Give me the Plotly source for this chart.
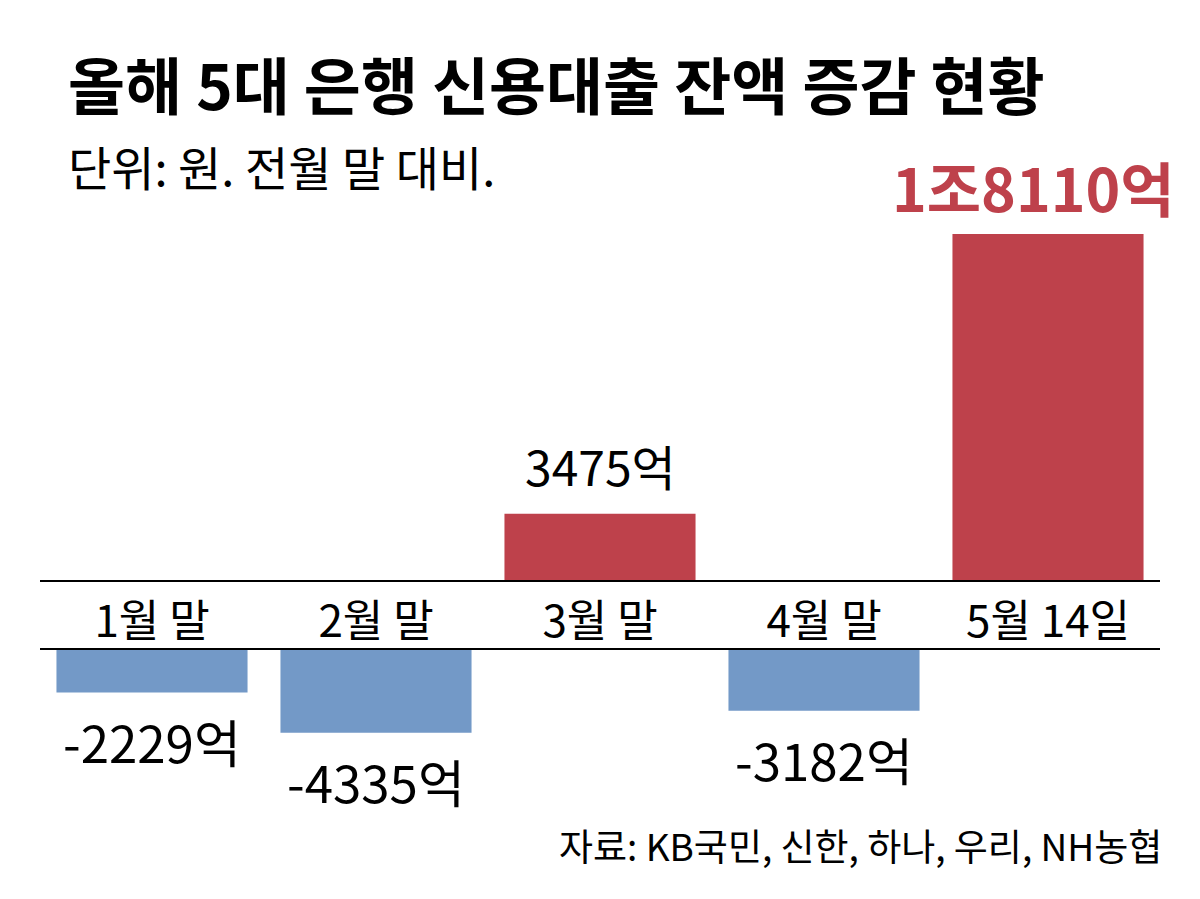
import plotly.graph_objects as go

# ---- data ----
categories = ["1월 말", "2월 말", "3월 말", "4월 말", "5월 14일"]
values = [-2229, -4335, 3475, -3182, 18110]
value_labels = ["-2229억", "-4335억", "3475억", "-3182억", "1조8110억"]
title_text = "올해 5대 은행 신용대출 잔액 증감 현황"
subtitle_text = "단위: 원. 전월 말 대비."
source_text = "자료: KB국민, 신한, 하나, 우리, NH농협"

RED = "#BE414B"
BLUE = "#7399C7"
FONT = "Noto Sans CJK KR"
W, H = 1200, 899
OFF = 8  # page body margin

pos_vals = [v if v > 0 else None for v in values]
neg_vals = [v if v < 0 else None for v in values]

fig = go.Figure()
fig.add_trace(go.Bar(x=categories, y=pos_vals, marker=dict(color=RED, line=dict(width=0)),
                     xaxis="x", yaxis="y", hoverinfo="skip"))
fig.add_trace(go.Bar(x=categories, y=neg_vals, marker=dict(color=BLUE, line=dict(width=0)),
                     xaxis="x2", yaxis="y2", hoverinfo="skip"))

k = 0.0191  # px per unit
zero_top_px = 580 - OFF
top_px = 150 - OFF
zero_bot_px = 650 - OFF

x_dom = [(40 - OFF) / W, (1160 - OFF) / W]
x_rng = [-0.5, len(categories) - 0.5]

fig.update_layout(
    width=W, height=H,
    margin=dict(l=0, r=0, t=0, b=0),
    paper_bgcolor="white", plot_bgcolor="white",
    showlegend=False,
    bargap=0.147,
    font=dict(family=FONT, color="black"),
    xaxis=dict(domain=x_dom, anchor="y", range=x_rng, autorange=False, showline=True,
               linecolor="black", linewidth=2,
               showgrid=False, zeroline=False, ticks="", tickfont=dict(size=44, family=FONT, color="black"),
               ticklabelstandoff=2, fixedrange=True),
    yaxis=dict(domain=[1 - zero_top_px / H, 1 - top_px / H], range=[0, (zero_top_px - top_px) / k],
               visible=False, fixedrange=True),
    xaxis2=dict(domain=x_dom, anchor="y2", side="top", range=x_rng, autorange=False, showline=True,
                linecolor="black", linewidth=2,
                showgrid=False, zeroline=False, showticklabels=False, ticks="",
                fixedrange=True),
    yaxis2=dict(domain=[0, 1 - zero_bot_px / H], range=[-(H - zero_bot_px) / k, 0],
                visible=False, fixedrange=True),
)

annotations = []
for c, v, lab in zip(categories, values, value_labels):
    if v > 0:
        big = v == max(values)
        annotations.append(dict(
            x=c, y=v, xref="x", yref="y", text=(f"<b>{lab}</b>" if big else lab),
            showarrow=False, yanchor="middle", yshift=48 if big else 49,
            xshift=-15 if big else 0,
            font=dict(size=59 if big else 48, color=RED if big else "black", family=FONT),
        ))
    else:
        annotations.append(dict(
            x=c, y=v, xref="x2", yref="y2", text=lab,
            showarrow=False, yanchor="middle", yshift=-48,
            font=dict(size=51, color="black", family=FONT),
        ))

annotations.append(dict(x=58 / W, y=1 - 75 / H, xref="paper", yref="paper", text=f"<b>{title_text}</b>",
                        showarrow=False, xanchor="left", yanchor="middle",
                        font=dict(size=62, color="black", family=FONT)))
annotations.append(dict(x=58 / W, y=1 - 158 / H, xref="paper", yref="paper", text=subtitle_text,
                        showarrow=False, xanchor="left", yanchor="middle",
                        font=dict(size=47, color="black", family=FONT)))
annotations.append(dict(x=1156 / W, y=1 - 837 / H, xref="paper", yref="paper", text=source_text,
                        showarrow=False, xanchor="right", yanchor="middle",
                        font=dict(size=37, color="black", family=FONT)))
fig.update_layout(annotations=annotations)

fig.write_html("out.html")
